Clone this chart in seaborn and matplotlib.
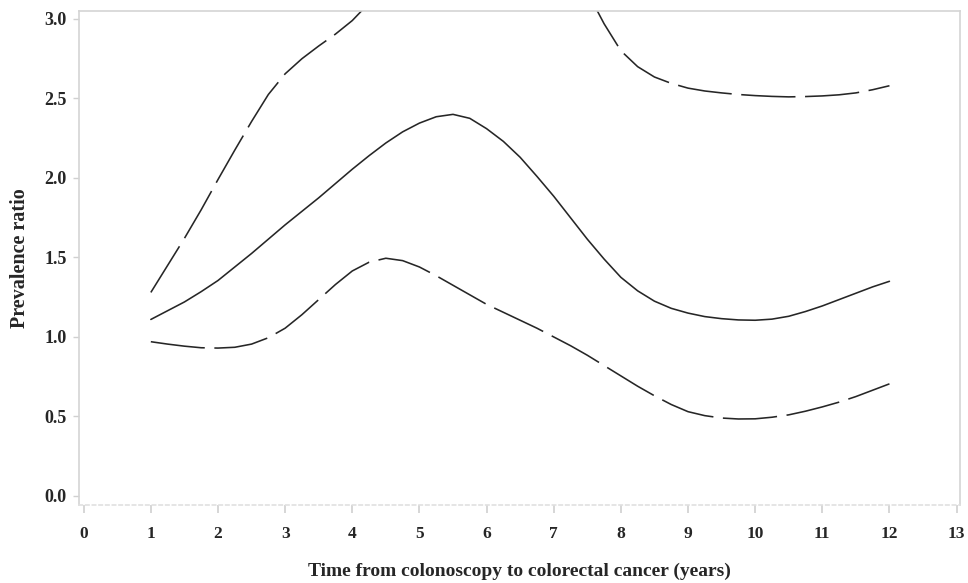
import matplotlib
matplotlib.use("Agg")
import matplotlib.pyplot as plt
import seaborn as sns
import pandas as pd

# values, every quarter year from 1 to 12
years = [1, 1.25, 1.5, 1.75, 2, 2.25, 2.5, 2.75, 3, 3.25, 3.5, 3.75,
         4, 4.25, 4.5, 4.75, 5, 5.25, 5.5, 5.75, 6, 6.25, 6.5, 6.75,
         7, 7.25, 7.5, 7.75, 8, 8.25, 8.5, 8.75, 9, 9.25, 9.5, 9.75,
         10, 10.25, 10.5, 10.75, 11, 11.25, 11.5, 11.75, 12]
estimate = [1.11, 1.165, 1.22, 1.285, 1.355, 1.44, 1.525, 1.615, 1.705, 1.79, 1.875, 1.965,
            2.055, 2.14, 2.22, 2.29, 2.345, 2.385, 2.40, 2.375, 2.31, 2.23, 2.13, 2.01,
            1.885, 1.75, 1.615, 1.49, 1.375, 1.29, 1.225, 1.18, 1.15, 1.128, 1.115, 1.107,
            1.105, 1.112, 1.13, 1.16, 1.195, 1.235, 1.275, 1.315, 1.35]
lower = [0.97, 0.955, 0.942, 0.932, 0.93, 0.935, 0.955, 0.995, 1.055, 1.14, 1.235, 1.33,
         1.415, 1.47, 1.495, 1.48, 1.44, 1.385, 1.325, 1.265, 1.205, 1.155, 1.105, 1.055,
         1.00, 0.945, 0.885, 0.82, 0.755, 0.69, 0.63, 0.575, 0.53, 0.505, 0.49, 0.484,
         0.485, 0.495, 0.51, 0.533, 0.56, 0.59, 0.625, 0.665, 0.705]
upper = [1.28, 1.45, 1.62, 1.80, 1.99, 2.175, 2.355, 2.525, 2.655, 2.75, 2.83, 2.905,
         2.99, 3.10, 3.24, 3.37, 3.50, 3.63, 3.75, 3.84, 3.90, 3.90, 3.85, 3.75,
         3.60, 3.40, 3.17, 2.97, 2.80, 2.70, 2.635, 2.595, 2.565, 2.547, 2.535, 2.525,
         2.518, 2.513, 2.51, 2.512, 2.516, 2.523, 2.535, 2.555, 2.58]

x_ticks = list(range(0, 14))
y_ticks = [0.0, 0.5, 1.0, 1.5, 2.0, 2.5, 3.0]

df = pd.concat([
    pd.DataFrame({"year": years, "ratio": estimate, "band": "estimate"}),
    pd.DataFrame({"year": years, "ratio": lower, "band": "lower"}),
    pd.DataFrame({"year": years, "ratio": upper, "band": "upper"}),
])

sns.set_style("ticks")
plt.rcParams["font.family"] = ["Liberation Serif", "DejaVu Serif"]

fig = plt.figure(figsize=(9.68, 5.83), dpi=100)
ax = fig.add_axes([0.0816, 0.1338, 0.9101, 0.8473])

sns.lineplot(data=df, x="year", y="ratio", style="band",
             dashes={"estimate": "", "lower": (34, 6), "upper": (34, 6)},
             color="#262626", linewidth=1.15, estimator=None, legend=False, ax=ax)

ax.set_xlim(-0.07, 13.05)
ax.set_ylim(-0.057, 3.05)
ax.set_xticks(x_ticks)
ax.set_yticks(y_ticks)
ax.set_yticklabels([f"{v:.1f}" for v in y_ticks])

for side in ["left", "right", "top"]:
    ax.spines[side].set_visible(True)
    ax.spines[side].set_color("#d4d4d4")
    ax.spines[side].set_linewidth(1.2)
ax.spines["bottom"].set_color("#e0e0e0")
ax.spines["bottom"].set_linestyle((0, (2, 2)))
ax.spines["bottom"].set_linewidth(1.2)

ax.tick_params(axis="x", length=6, width=1.2, color="#d0d0d0", pad=9, labelsize=12.5)
ax.tick_params(axis="y", length=4, width=1.0, color="#d0d0d0", pad=5, labelsize=13)
for lab in ax.get_xticklabels() + ax.get_yticklabels():
    lab.set_fontweight("bold")

ax.set_xlabel("Time from colonoscopy to colorectal cancer (years)",
              fontsize=14, fontweight="bold", labelpad=15)
ax.set_ylabel("Prevalence ratio", fontsize=14.5, fontweight="bold", labelpad=10)

fig.savefig("out.png", dpi=100)
plt.close(fig)
